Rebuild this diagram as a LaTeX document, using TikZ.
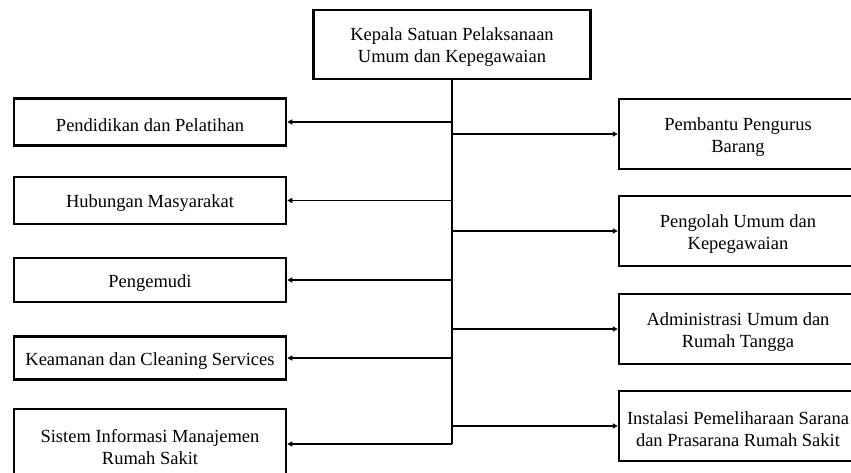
\documentclass[tikz,border=0pt]{standalone}
\usepackage{fontspec}
\setmainfont{Liberation Serif}
\usetikzlibrary{arrows.meta}
\newcommand{\topstrut}{\rule{0pt}{18.5pt}}
\begin{document}
\begin{tikzpicture}[x=1pt,y=-1pt,
  box/.style={draw=black,line width=2.5pt,rectangle,inner sep=0pt,align=center,
    font=\fontsize{18.5}{22}\selectfont},
  lbox/.style={box,minimum width=272pt},
  rbox/.style={box,minimum width=238pt,minimum height=70pt},
  conn/.style={line width=1.6pt,-{Triangle[length=5pt,width=5pt]}},
  trunkline/.style={line width=2.2pt}]
\useasboundingbox (0,0) rectangle (851,472);
\node[box,minimum width=277pt,minimum height=69pt] (top) at (452,44.5) {\topstrut Kepala Satuan Pelaksanaan\\Umum dan Kepegawaian};
\node[lbox,minimum height=47pt] (pend) at (150,122) {\topstrut Pendidikan dan Pelatihan};
\node[lbox,minimum height=47pt] (hub) at (150,200.5) {\topstrut Hubungan Masyarakat};
\node[lbox,minimum height=44pt] (peng) at (150,280) {\topstrut Pengemudi};
\node[lbox,minimum height=43pt] (keam) at (150,358) {\topstrut Keamanan dan Cleaning Services};
\node[lbox,minimum height=70pt] (sis) at (150,444) {\topstrut Sistem Informasi Manajemen\\Rumah Sakit};
\node[rbox] (pemb) at (738,134) {\topstrut Pembantu Pengurus\\Barang};
\node[rbox] (pengolah) at (738,231) {\topstrut Pengolah Umum dan\\Kepegawaian};
\node[rbox] (adm) at (738,329) {\topstrut Administrasi Umum dan\\Rumah Tangga};
\node[rbox] (inst) at (738,426) {\topstrut Instalasi Pemeliharaan Sarana\\dan Prasarana Rumah Sakit};
\draw[trunkline] (top.south) -- (top.south |- sis.east);
\foreach \n in {pend,hub,peng,keam,sis}
  \draw[conn] (top.south |- \n.east) -- (\n.east);
\foreach \n in {pemb,pengolah,adm,inst}
  \draw[conn] (top.south |- \n.west) -- (\n.west);
\end{tikzpicture}
\end{document}
